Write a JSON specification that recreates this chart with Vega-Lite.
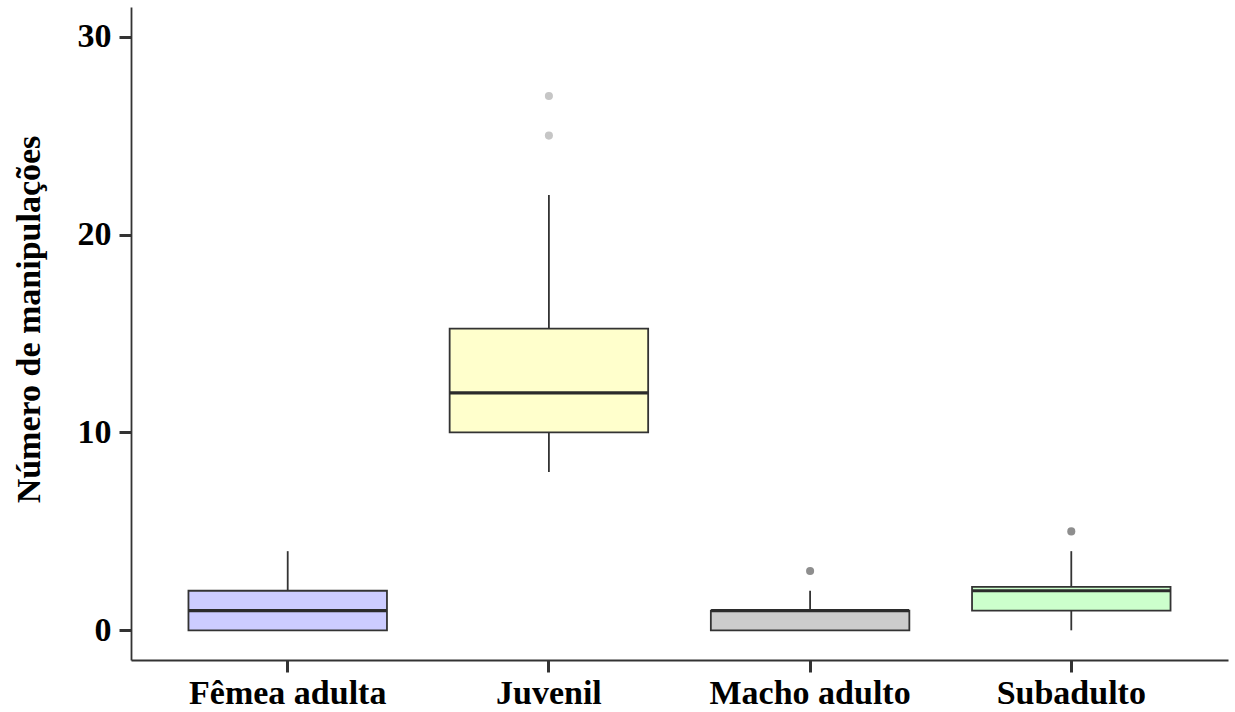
{
  "$schema": "https://vega.github.io/schema/vega-lite/v6.json",
  "autosize": {"type": "none"},
  "padding": {"left": 131, "top": 7, "right": 7, "bottom": 52},
  "width": 1097,
  "height": 653,
  "background": "white",
  "config": {
    "view": {"stroke": null},
    "axis": {
      "labelFont": "Liberation Serif",
      "labelFontWeight": "bold",
      "labelFontSize": 34,
      "labelColor": "black",
      "labelLimit": 0,
      "titleFont": "Liberation Serif",
      "titleFontWeight": "bold",
      "titleFontSize": 34,
      "titleColor": "black",
      "tickColor": "#333333",
      "tickWidth": 3,
      "tickSize": 12,
      "domainColor": "#333333",
      "domainWidth": 1.8,
      "grid": false
    }
  },
  "datasets": {
    "boxes": [
      {"grupo": "Fêmea adulta", "lo": 0, "q1": 0, "med": 1, "q3": 2, "hi": 4},
      {"grupo": "Juvenil", "lo": 8, "q1": 10, "med": 12, "q3": 15.25, "hi": 22},
      {"grupo": "Macho adulto", "lo": 0, "q1": 0, "med": 1, "q3": 1, "hi": 2},
      {"grupo": "Subadulto", "lo": 0, "q1": 1, "med": 2, "q3": 2.2, "hi": 4}
    ],
    "outliers": [
      {"grupo": "Juvenil", "valor": 25},
      {"grupo": "Juvenil", "valor": 27},
      {"grupo": "Macho adulto", "valor": 3},
      {"grupo": "Subadulto", "valor": 5}
    ]
  },
  "resolve": {"scale": {"fill": "independent"}},
  "layer": [
    {
      "data": {"name": "boxes"},
      "mark": {"type": "rule", "color": "#333333", "strokeWidth": 1.8},
      "encoding": {
        "x": {
          "field": "grupo", "type": "nominal",
          "scale": {"domain": ["Fêmea adulta", "Juvenil", "Macho adulto", "Subadulto"], "paddingInner": 0, "paddingOuter": 0.1},
          "axis": {"title": null, "labelAngle": 0, "labelPadding": 4}
        },
        "y": {
          "field": "lo", "type": "quantitative",
          "scale": {"domain": [-1.5, 31.5], "nice": false, "zero": false},
          "axis": {"title": "Número de manipulações", "values": [0, 10, 20, 30], "labelPadding": 8, "titlePadding": 31, "titleY": 312}
        },
        "y2": {"field": "hi"}
      }
    },
    {
      "data": {"name": "boxes"},
      "mark": {"type": "bar", "width": {"band": 0.76}, "stroke": "#333333", "strokeWidth": 1.8},
      "encoding": {
        "x": {"field": "grupo", "type": "nominal"},
        "y": {"field": "q1", "type": "quantitative"},
        "y2": {"field": "q3"},
        "fill": {
          "field": "grupo", "type": "nominal", "legend": null,
          "scale": {"domain": ["Fêmea adulta", "Juvenil", "Macho adulto", "Subadulto"], "range": ["#ccccff", "#ffffcc", "#cccccc", "#ccffcc"]}
        }
      }
    },
    {
      "data": {"name": "boxes"},
      "mark": {"type": "tick", "size": 198, "thickness": 3.2, "color": "#2b2b2b", "opacity": 1},
      "encoding": {
        "x": {"field": "grupo", "type": "nominal"},
        "y": {"field": "med", "type": "quantitative"}
      }
    },
    {
      "data": {"name": "outliers"},
      "mark": {"type": "circle", "size": 65, "opacity": 1},
      "encoding": {
        "x": {"field": "grupo", "type": "nominal"},
        "y": {"field": "valor", "type": "quantitative"},
        "fill": {
          "field": "grupo", "type": "nominal", "legend": null,
          "scale": {"domain": ["Fêmea adulta", "Juvenil", "Macho adulto", "Subadulto"], "range": ["#999999", "#c6c6c6", "#8e8e8e", "#8e8e8e"]}
        }
      }
    },
    {
      "mark": {"type": "rule", "color": "#333333", "strokeWidth": 1.8},
      "encoding": {"y": {"datum": 31.5, "type": "quantitative"}}
    }
  ]
}
